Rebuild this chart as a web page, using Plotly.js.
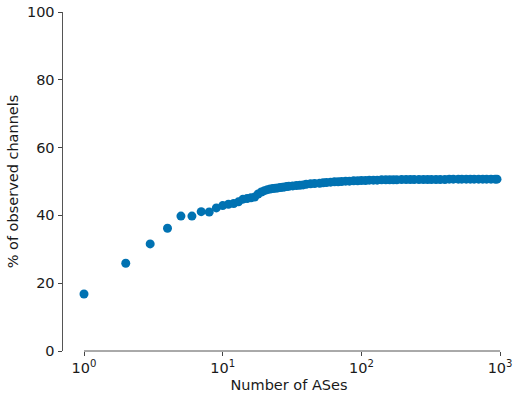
<!DOCTYPE html>
<html>
<head>
<meta charset="utf-8">
<script src="https://cdn.plot.ly/plotly-3.0.1.min.js"></script>
<style>html,body{margin:0;padding:0;background:#fff;}#chart{width:515px;height:397px;}</style>
</head>
<body>
<div id="chart"></div>
<script>
// Number of ASes (x) and cumulative % of observed channels (y)
const numASes = [1,2,3,4,5,6,7,8,9,10,11,12,13,14,15,16,17,18,19,20,21,22,23,24,25,26,27,28,29,30,
  32,34,36,38,40,43,46,50,53,56,60,64,68,72,77,82,88,94,100,107,114,122,130,140,150,160,170,180,
  195,210,225,240,260,280,300,320,345,370,400,430,460,500,530,570,610,650,700,750,800,860,920,950];
const pctChannels = [16.8,25.9,31.6,36.2,39.8,39.8,41.1,41.0,42.2,42.9,43.3,43.5,44.0,44.8,45.0,45.2,45.4,46.3,46.9,47.3,47.6,47.8,47.9,48.0,48.1,48.2,48.3,48.4,48.5,48.6,
  48.7,48.8,48.9,49.0,49.2,49.3,49.4,49.5,49.6,49.7,49.8,49.9,49.9,50.0,50.1,50.1,50.2,50.2,50.3,50.3,50.4,50.4,50.4,50.5,50.5,50.5,50.5,50.5,
  50.6,50.6,50.6,50.6,50.6,50.6,50.6,50.6,50.6,50.6,50.6,50.7,50.7,50.7,50.7,50.7,50.7,50.7,50.7,50.7,50.7,50.7,50.7,50.7];
const xTickVals = [1,10,100,1000];
const xTickText = ['10<sup>0</sup>','10<sup>1</sup>','10<sup>2</sup>','10<sup>3</sup>'];
const yTickVals = [0,20,40,60,80,100];

const font = {family:'DejaVu Sans, sans-serif', size:14.5, color:'#1a1a1a'};

Plotly.newPlot('chart', [{
  x: numASes, y: pctChannels, type:'scatter', mode:'markers',
  marker:{size:9, color:'#0072b2'}, hoverinfo:'skip'
}], {
  width:515, height:397,
  margin:{l:63, r:0, t:12, b:46},
  paper_bgcolor:'#fff', plot_bgcolor:'#fff',
  font: font,
  showlegend:false,
  xaxis:{
    type:'log', range:[-0.1514, 3.1075],
    tickvals:xTickVals, ticktext:xTickText,
    ticks:'outside', ticklen:4, tickcolor:'#444', tickwidth:1,
    showgrid:false, zeroline:false, showline:false,
    tickfont:font,
    title:{text:'Number of ASes', font:font, standoff:4}
  },
  yaxis:{
    range:[0,100], tickvals:yTickVals,
    ticks:'outside', ticklen:4.5, tickcolor:'#444', tickwidth:1,
    showgrid:false, zeroline:false, showline:true, linecolor:'#555', linewidth:1,
    tickfont:font,
    title:{text:'% of observed channels', font:font, standoff:4}
  },
  shapes:[{type:'line', xref:'x', yref:'paper', x0:1, x1:1000, y0:0, y1:0,
    line:{color:'#555', width:1}}]
}, {staticPlot:true, displayModeBar:false});
</script>
</body>
</html>
